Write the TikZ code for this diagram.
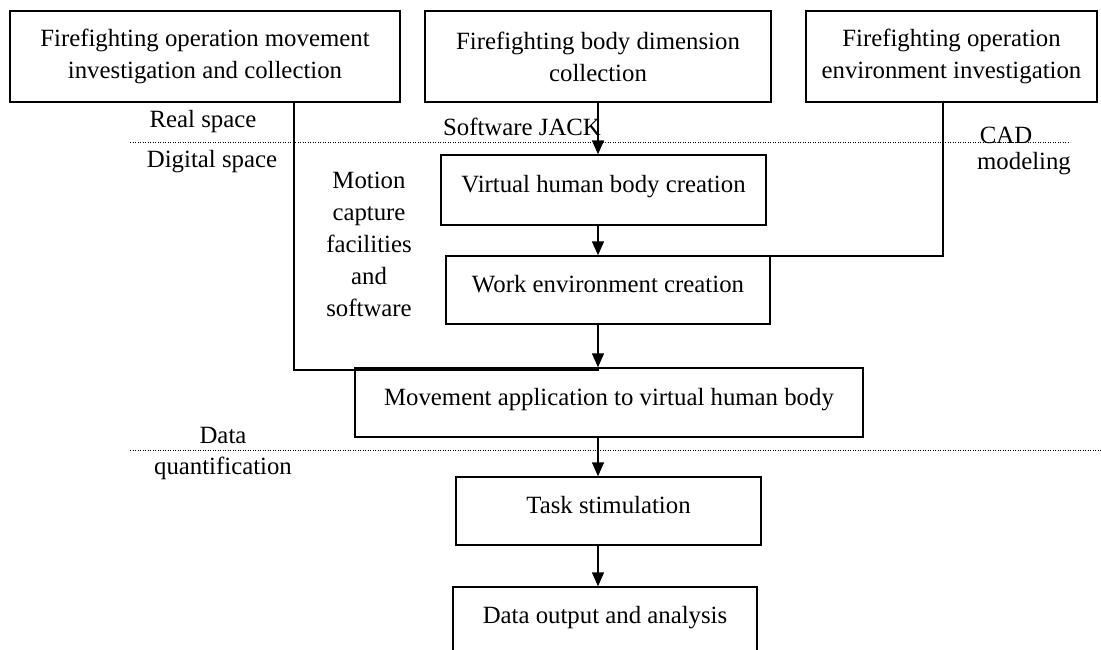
\documentclass[tikz,border=0pt]{standalone}
\usepackage{fontspec}
\setmainfont{Liberation Serif}
\usetikzlibrary{arrows.meta}
\begin{document}
\begin{tikzpicture}[x=1pt,y=-1pt,
  every node/.style={font=\fontsize{24.8}{32}\selectfont},
  box/.style={draw, line width=1.5pt, inner sep=0pt, align=center},
  up/.style={text height=17pt, text depth=12pt},
  lbl/.style={inner sep=0pt, align=center},
  conn/.style={line width=1.5pt},
  arr/.style={line width=1.5pt, -{Triangle[width=12pt,length=14pt]}},
  sep/.style={line width=0.9pt, dash pattern=on 1.2pt off 1.3pt}]
\clip (0,0) rectangle (1101,649);
\fill[white] (0,0) rectangle (1101,649);
% top boxes
\node[box, minimum width=390, minimum height=91] (b1) at (205,56.5) {Firefighting operation movement\\investigation and collection};
\node[box, minimum width=346, minimum height=91] (b2) at (598,56.5) {Firefighting body dimension\\collection};
\node[box, minimum width=291, minimum height=91] (b3) at (951.5,56.5) {Firefighting operation\\environment investigation};
% process boxes
\node[box, up, minimum width=325, minimum height=70] (vb) at (603.5,190) {Virtual human body creation};
\node[box, up, minimum width=324, minimum height=68] (we) at (608,290) {Work environment creation};
\node[box, up, minimum width=508, minimum height=69] (mv) at (609,402.5) {Movement application to virtual human body};
\node[box, up, minimum width=305, minimum height=68] (ts) at (608.5,511) {Task stimulation};
\node[box, up, minimum width=304, minimum height=68] (do) at (605,621) {Data output and analysis};
% separators
\draw[sep] (130,142) -- (1070,142);
\draw[sep] (130,450) -- (1101,450);
% labels
\node[lbl] (rs) at (203,122) {Real space};
\node[lbl] (ds) at (212,162) {Digital space};
\node[lbl] (sj) at (522,127) {Software JACK};
\node[lbl] (cad) at (1006,135) {CAD};
\node[lbl] (mod) at (1024,164) {modeling};
\node[lbl] (mc) at (369,244) {Motion\\capture\\facilities\\and\\software};
\node[lbl] (dq1) at (223,435) {Data};
\node[lbl] (dq2) at (223,468) {quantification};
% connectors
\coordinate (j1) at (599,256);
\coordinate (j2) at (599,370);
\draw[arr] (b2.south) -- (b2.south |- vb.north);
\draw[arr] (b2.south |- vb.south) -- (b2.south |- we.north);
\draw[conn] ([xshift=-8.5]b3.south) |- (j1);
\draw[conn] ([xshift=89]b1.south) |- (j2);
\draw[arr] (b2.south |- we.south) -- (b2.south |- mv.north);
\draw[arr] (b2.south |- mv.south) -- (b2.south |- ts.north);
\draw[arr] (b2.south |- ts.south) -- (b2.south |- do.north);
\end{tikzpicture}
\end{document}
